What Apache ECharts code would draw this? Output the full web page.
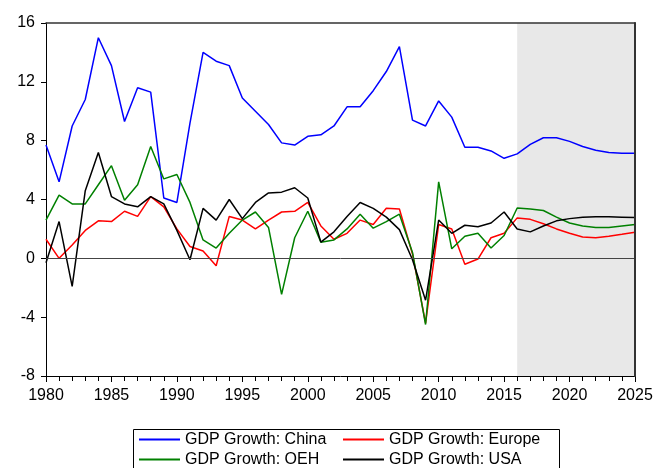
<!DOCTYPE html>
<html><head><meta charset="utf-8">
<script src="https://cdn.jsdelivr.net/npm/echarts@6/dist/echarts.min.js"></script>
<style>html,body{margin:0;padding:0;background:#fff}#c{width:668px;height:468px}</style>
</head><body><div id="c"></div>
<script>
const years = [];
for (let y = 1980; y <= 2025; y++) years.push(y);

const china = [7.7,5.2,9.0,10.8,15.0,13.1,9.3,11.6,11.3,4.1,3.8,9.2,14.0,13.4,13.1,10.9,10.0,9.1,7.85,7.7,8.3,8.4,9.0,10.3,10.3,11.4,12.7,14.4,9.4,9.0,10.7,9.6,7.55,7.55,7.3,6.8,7.1,7.75,8.2,8.2,7.95,7.6,7.35,7.2,7.15,7.14];
const europe = [1.3,0.0,0.9,1.9,2.55,2.5,3.2,2.85,4.2,3.5,2.0,0.8,0.5,-0.5,2.85,2.6,2.0,2.6,3.15,3.2,3.8,2.2,1.3,1.7,2.6,2.3,3.4,3.35,0.3,-4.4,2.3,2.0,-0.4,-0.05,1.4,1.7,2.75,2.65,2.35,2.0,1.7,1.45,1.4,1.5,1.63,1.77];
const oeh = [2.6,4.3,3.7,3.7,5.0,6.3,3.95,5.0,7.6,5.4,5.7,3.8,1.25,0.7,1.7,2.6,3.15,2.1,-2.45,1.4,3.2,1.1,1.25,2.0,3.0,2.05,2.5,3.0,0.4,-4.5,5.2,0.65,1.5,1.7,0.7,1.55,3.42,3.35,3.25,2.8,2.4,2.2,2.1,2.1,2.2,2.3];
const usa = [-0.3,2.5,-1.9,4.6,7.2,4.2,3.7,3.5,4.2,3.7,1.9,-0.1,3.4,2.6,4.0,2.7,3.8,4.45,4.5,4.8,4.1,1.1,1.8,2.85,3.8,3.4,2.8,1.95,-0.1,-2.85,2.6,1.7,2.25,2.15,2.4,3.15,2.0,1.8,2.2,2.55,2.7,2.8,2.83,2.83,2.8,2.77];

const seriesNames = ['GDP Growth: China','GDP Growth: Europe','GDP Growth: OEH','GDP Growth: USA'];
const seriesColors = ['#0000ff','#ff0000','#008000','#000000'];
const seriesValues = [china, europe, oeh, usa];
const forecastStart = 2016, forecastEnd = 2025;

const FONT = "'Liberation Sans', Arial, sans-serif";
const chart = echarts.init(document.getElementById('c'), null, {renderer: 'canvas'});

const lineSeries = seriesNames.map((n, i) => ({
  name: n, type: 'line', symbol: 'none', z: 3,
  data: years.map((y, k) => [y, seriesValues[i][k]]),
  lineStyle: {color: seriesColors[i], width: 1.5},
  itemStyle: {color: seriesColors[i]},
  emphasis: {disabled: true}, animation: false
}));

const legendCommon = {
  orient: 'vertical', itemWidth: 41, itemHeight: 2, itemGap: 3, padding: 0,
  icon: 'rect',
  textStyle: {fontSize: 16, fontFamily: FONT, color: '#000', lineHeight: 17},
  selectedMode: false
};

const option = {
  animation: false,
  grid: {left: 46, right: 33, top: 23, bottom: 92, show: false},
  xAxis: [{
    type: 'value', min: 1980, max: 2025, interval: 5,
    axisLine: {show: true, onZero: false, lineStyle: {color: '#000', width: 1}},
    axisTick: {show: true, length: 6, lineStyle: {color: '#000'}},
    minorTick: {show: true, splitNumber: 5, length: 5, lineStyle: {color: '#000'}},
    splitLine: {show: false},
    axisLabel: {color: '#000', fontSize: 16, fontFamily: FONT, margin: 12, formatter: v => String(v)}
  }, {
    type: 'value', min: 1980, max: 2025, position: 'top', z: 10,
    axisLine: {show: true, onZero: false, lineStyle: {color: '#333', width: 1.5}},
    axisTick: {show: false}, axisLabel: {show: false}, splitLine: {show: false}
  }],
  yAxis: [{
    type: 'value', min: -8, max: 16, interval: 4,
    axisLine: {show: true, onZero: false, lineStyle: {color: '#000', width: 1}},
    axisTick: {show: true, length: 5, lineStyle: {color: '#000'}},
    splitLine: {show: false},
    axisLabel: {color: '#000', fontSize: 16, fontFamily: FONT, margin: 11}
  }, {
    type: 'value', min: -8, max: 16, position: 'right', z: 10,
    axisLine: {show: true, onZero: false, lineStyle: {color: '#333', width: 2}},
    axisTick: {show: false}, axisLabel: {show: false}, splitLine: {show: false}
  }],
  legend: [
    Object.assign({data: [seriesNames[0], seriesNames[2]], left: 139, top: 431}, legendCommon),
    Object.assign({data: [seriesNames[1], seriesNames[3]], left: 343, top: 431}, legendCommon)
  ],
  graphic: [{
    type: 'rect', left: 131, top: 427, z: 0,
    shape: {width: 426, height: 48},
    style: {fill: 'none', stroke: '#000', lineWidth: 1}
  }],
  series: [{
    type: 'line', data: [], silent: true, z: 1,
    markArea: {silent: true, itemStyle: {color: '#e8e8e8'},
      data: [[{xAxis: forecastStart}, {xAxis: forecastEnd}]]},
    markLine: {silent: true, symbol: 'none', label: {show: false},
      lineStyle: {color: '#444', width: 1, type: 'solid'},
      data: [{yAxis: 0}]}
  }].concat(lineSeries)
};
chart.setOption(option);
</script></body></html>
